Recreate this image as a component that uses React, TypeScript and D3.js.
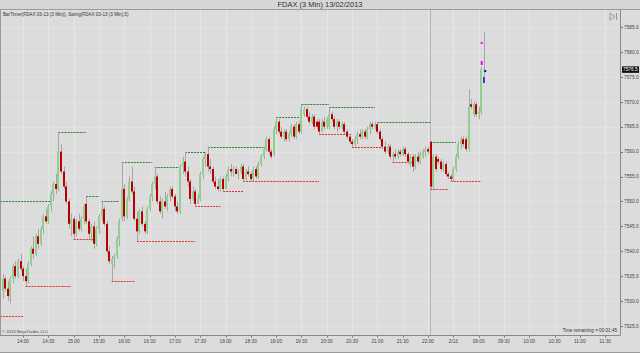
import React from 'react';
import * as d3 from 'd3';

const open = [7532,7534.5,7532.5,7531,7534.5,7537,7535,7538,7536.5,7535,7534,7537.5,7540.5,7539.5,7543,7541.5,7544.5,7547,7546,7549,7551.5,7553.5,7552.5,7560,7556,7553,7550,7545.5,7546.5,7543.5,7546,7544.5,7546.5,7549.5,7546,7543.5,7545,7541.5,7544.5,7547,7548.5,7545.5,7540,7537.5,7538.5,7539,7542.5,7546.5,7552.5,7547,7550.5,7554,7552,7546.5,7544,7548,7545.5,7544,7548.5,7551,7553.5,7555,7550,7548,7550,7549,7551,7552.5,7551,7549,7548,7557,7558,7556,7554,7550.5,7552,7549.5,7550.5,7555.5,7558.5,7559.5,7557,7556.5,7554,7553,7552.5,7554.5,7552.5,7555,7556.5,7556,7556.5,7555.5,7556,7557,7554.5,7556,7555.5,7554.5,7556.5,7555,7557.5,7559,7560.5,7562.5,7560,7559.5,7564.5,7566,7564,7563,7564,7562.5,7563.5,7565,7563,7565.5,7564,7567.5,7568.5,7567,7566,7567,7566,7566,7564,7566,7565,7565,7567.5,7566.5,7565,7566,7565,7565.5,7564,7563,7562,7561.5,7562.5,7563.5,7563,7564,7563,7564.5,7565.5,7565,7565.5,7564,7562.5,7561,7560,7561,7559,7559.5,7559,7560,7559.5,7560.5,7559.5,7557.5,7559,7557,7559,7558,7559,7560,7560.5,7562,7553,7559,7558.5,7558,7556.5,7557.5,7555.5,7555,7554.5,7556.5,7559,7561.5,7562.5,7562.5,7560.5,7569.5,7567.5,7569.5,7567.5,7568,7576.5];
const high = [7535.5,7535,7534,7535,7537.5,7538,7538.5,7539.5,7537,7536.5,7538,7541,7543,7543.5,7544.5,7545,7547.5,7548.5,7549.5,7552,7554,7555.5,7564,7561.5,7557,7554,7550.5,7547.5,7547,7546.5,7547.5,7547,7549.5,7551,7546.5,7545.5,7546,7545,7547.5,7550,7549,7546,7541,7539,7539.5,7543,7546.5,7558,7553.5,7551,7555,7557,7553,7548,7548.5,7549,7546,7549,7551.5,7554,7557,7555.5,7551,7550.5,7552,7551.5,7553,7553,7551.5,7550,7557.5,7559,7560,7557,7554.5,7553,7552.5,7551.5,7556,7559,7560,7561,7558.5,7557,7555,7554.5,7555,7555,7555.5,7557,7557.5,7557,7557,7556.5,7557.5,7557.5,7556.5,7557,7556,7557,7557,7558,7559.5,7561,7563,7563,7560.5,7565,7567,7566.5,7565,7564.5,7564.5,7564,7565.5,7565.5,7566,7566,7569.5,7569,7569,7568,7567.5,7567.5,7566.5,7566.5,7566.5,7567,7567,7569,7568,7567,7566.5,7566.5,7566,7566,7564.5,7563.5,7562.5,7563,7564,7564.5,7564.5,7564.5,7565,7566,7566,7566,7566,7564.5,7563,7562,7561.5,7561.5,7560,7560.5,7560.5,7560.5,7561,7561,7560,7559.5,7559.5,7559.5,7560,7560,7560.5,7561,7561,7562,7559.5,7559.5,7559,7558.5,7558,7558,7556,7555.5,7557,7559.5,7562,7563,7563,7563,7572.5,7570.5,7570,7570,7569,7577,7584];
const low = [7530.5,7532,7530,7529.5,7533.5,7534.5,7534.5,7536,7534,7533,7533.5,7537,7538.5,7539,7540.5,7541,7543.5,7545.5,7545.5,7548,7550,7551.5,7552,7555.5,7552.5,7549.5,7544.5,7543,7542.5,7543,7544,7544,7545.5,7545.5,7542.5,7542,7540.5,7541,7543.5,7546,7545,7539.5,7537.5,7534,7536.5,7538.5,7541,7546,7546,7546.5,7550,7551.5,7546,7542,7543.5,7545,7543.5,7543.5,7548,7550,7552.5,7549.5,7547.5,7546.5,7548.5,7548,7550,7550.5,7548,7547.5,7547.5,7555.5,7555,7553,7549.5,7550,7549,7549.5,7550,7554.5,7557,7556,7555.5,7553.5,7552.5,7552,7552,7552,7552.5,7554,7555,7555,7555.5,7554.5,7555.5,7554,7554,7555,7554,7554,7554.5,7554.5,7557,7558.5,7560,7559.5,7558.5,7559,7563.5,7563.5,7562.5,7562,7562,7562,7563,7562.5,7562.5,7563.5,7563.5,7567,7566.5,7565.5,7565.5,7564.5,7564.5,7563.5,7564,7564.5,7564.5,7564.5,7566,7564.5,7564,7564.5,7564.5,7563.5,7562.5,7561.5,7561,7561,7561.5,7562.5,7562.5,7562.5,7562.5,7563.5,7564.5,7564.5,7563.5,7562,7560.5,7559.5,7559.5,7558.5,7558,7558.5,7558.5,7559,7559,7559,7557.5,7557,7556,7556.5,7557.5,7557.5,7558.5,7559,7559.5,7552.5,7552.5,7556,7557.5,7556,7556,7555,7554.5,7554,7554,7556,7558.5,7560.5,7561,7560,7560,7568.5,7567,7567,7566.5,7567.5,7575];
const close = [7534.5,7532.5,7531,7534.5,7537,7535,7538,7536.5,7535,7534,7537.5,7540.5,7539.5,7543,7541.5,7544.5,7547,7546,7549,7551.5,7553.5,7552.5,7560,7556,7553,7550,7545.5,7546.5,7543.5,7546,7544.5,7546.5,7549,7546,7543.5,7545,7541.5,7544.5,7547,7548.5,7545.5,7540,7538,7538.5,7539,7542.5,7546,7552.5,7547,7550.5,7554,7552,7546.5,7544,7548,7545.5,7544,7548.5,7551,7553.5,7555,7550,7548,7550,7549,7551,7552.5,7551,7549,7548,7557,7558,7556,7554,7550.5,7552,7549.5,7550.5,7555.5,7558.5,7559.5,7557,7556.5,7554,7553,7552.5,7554.5,7552.5,7555,7556.5,7556,7556.5,7555.5,7556,7557,7554.5,7556,7555.5,7554.5,7556.5,7555,7557.5,7559,7560.5,7562.5,7560,7559,7564.5,7566,7564,7563,7564,7562.5,7563.5,7565,7563,7565.5,7564,7568.5,7568.5,7567,7566,7567,7565,7565,7564,7566,7565,7566.5,7567.5,7566.5,7565,7566,7565,7565.5,7564,7563,7562,7561.5,7562.5,7563.5,7563,7564,7563,7564.5,7565.5,7565,7565.5,7564,7562.5,7561,7560,7561,7559,7559.5,7559,7560,7559.5,7560.5,7559.5,7558,7559,7557,7559,7558,7559.5,7560,7560.5,7560,7553,7559,7556.5,7558,7556.5,7557.5,7555.5,7555,7554.5,7556.5,7559,7561.5,7562.5,7561.5,7560.5,7569,7569,7569.5,7567.5,7568,7576.5,7576.5];

const swingHighStart = [-1, 22, 33, 39, 47, 60, 72, 81, 108, 118, 129, 148, 169];
const swingHighEnd = [19, 33, 38, 46, 59, 70, 80, 103, 117, 129, 147, 169, 179];
const swingHighPrice = [7550, 7564, 7551, 7550, 7558, 7557, 7560, 7561, 7567, 7569.5, 7569, 7566, 7562];
const swingLowStart = [-1, 9, 28, 43, 53, 76, 87, 95, 125, 138, 154, 169, 177];
const swingLowEnd = [8, 27, 36, 52, 76, 86, 95, 125, 138, 150, 162, 176, 189];
const swingLowPrice = [7527, 7533, 7542.5, 7534, 7542, 7549, 7552, 7554, 7563.5, 7561, 7558, 7552.5, 7554];

const xTickLabels = ["14:00","14:30","15:00","15:30","16:00","16:30","17:00","17:30","18:00","18:30","19:00","19:30","20:00","20:30","21:00","21:30","22:00","2/13","09:00","09:30","10:00","10:30","11:00","11:30"];
const xTickIndex = [8,18,28,38,48,58,68,78,88,98,108,118,128,138,148,158,168,178,188,198,208,218,228,238];
const yTicks = [7525,7530,7535,7540,7545,7550,7555,7560,7565,7570,7575,7580,7585];
const lastPrice = 7576.5;

const FONT = "'Liberation Sans', Arial, sans-serif";

export default function App() {
  const x = d3.scaleLinear().domain([0, 238]).range([2.8, 605.2]);
  const y = d3.scaleLinear().domain([7525, 7585]).range([326, 27]);
  const plotL = 1, plotR = 620, plotT = 9.5, plotB = 335.5;
  const n = close.length;
  const idx = d3.range(n);
  const sessionBreak = x(168.8);
  const last = n - 1;

  return (
    <svg width={640} height={353} style={{ position: 'absolute', left: 0, top: 0 }} fontFamily={FONT}>
      <defs>
        <clipPath id="plot"><rect x={plotL} y={plotT} width={plotR - plotL} height={plotB - plotT} /></clipPath>
      </defs>
      <rect x={0} y={0} width={640} height={353} fill="#dcdcdc" />
      <rect x={0} y={0} width={640} height={9} fill="#d6d6d6" />
      <text x={320} y={7} textAnchor="middle" fontSize={7.5} fill="#333">FDAX  (3 Min)  13/02/2013</text>
      <line x1={0} x2={640} y1={plotT} y2={plotT} stroke="#9a9a9a" />
      <g clipPath="url(#plot)">
        {xTickIndex.map((t, k) => (
          <line key={'vg' + k} x1={Math.round(x(t)) + 0.5} x2={Math.round(x(t)) + 0.5} y1={plotT} y2={plotB} stroke="#e6e6e6" strokeWidth={1} />
        ))}
        {yTicks.map((v, k) => (
          <line key={'hg' + k} x1={plotL} x2={plotR} y1={Math.round(y(v)) + 0.5} y2={Math.round(y(v)) + 0.5} stroke="#e3e3e3" strokeWidth={1} />
        ))}
        <line x1={Math.round(sessionBreak) + 0.5} x2={Math.round(sessionBreak) + 0.5} y1={plotT} y2={plotB} stroke="#b8b8b8" />
        {swingHighPrice.map((p, k) => (
          <line key={'sh' + k} x1={x(swingHighStart[k])} x2={x(swingHighEnd[k])} y1={Math.round(y(p)) + 0.5} y2={Math.round(y(p)) + 0.5} stroke="#2e7d2e" strokeWidth={1} strokeDasharray="2,1" />
        ))}
        {swingLowPrice.map((p, k) => (
          <line key={'sl' + k} x1={x(swingLowStart[k])} x2={x(swingLowEnd[k])} y1={Math.round(y(p)) + 0.5} y2={Math.round(y(p)) + 0.5} stroke="#e03030" strokeWidth={1} strokeDasharray="2,1" />
        ))}
        {idx.map((i) => {
          const cx = Math.round(x(i));
          const up = close[i] >= open[i];
          const top = y(Math.max(open[i], close[i]));
          const bot = y(Math.min(open[i], close[i]));
          return (
            <g key={'c' + i}>
              <line x1={cx + 0.5} x2={cx + 0.5} y1={y(high[i])} y2={y(low[i])} stroke="#a6a6a6" strokeWidth={1} />
              <rect x={cx - 1} y={top} width={2} height={Math.max(1, bot - top)} fill={up ? '#8fd08f' : '#b80000'} />
            </g>
          );
        })}
        <rect x={x(last) - 3} y={42} width={2} height={2} fill="#ff00ff" />
        <rect x={x(last) - 3} y={61} width={2} height={4} fill="#ff00ff" />
        <rect x={x(last) + 0.5} y={70} width={2} height={2} fill="#0000ee" />
        <rect x={x(last) - 0.5} y={77} width={1.5} height={6} fill="#0000ee" />
      </g>
      <line x1={plotR + 0.5} x2={plotR + 0.5} y1={plotT} y2={plotB} stroke="#8a8a8a" />
      <line x1={plotL - 0.5} x2={plotL - 0.5} y1={plotT} y2={plotB} stroke="#9a9a9a" />
      <line x1={0} x2={plotR} y1={plotB} y2={plotB} stroke="#8a8a8a" />
      <line x1={0} x2={640} y1={352.5} y2={352.5} stroke="#9a9a9a" />
      <text x={3} y={16} fontSize={4.6} fill="#333">BarTimer(FDAX 03-13 (3 Min)), Swing(FDAX 03-13 (3 Min),5)</text>
      <g transform="translate(610,13)" fill="none" stroke="#888" strokeWidth={0.8}>
        <path d="M0,0 L5,3.5 L0,7 Z" />
        <line x1={6.5} x2={6.5} y1={0} y2={7} />
      </g>
      {yTicks.map((v, k) => (
        <g key={'yt' + k}>
          <line x1={plotR} x2={plotR + 3} y1={Math.round(y(v)) + 0.5} y2={Math.round(y(v)) + 0.5} stroke="#777" />
          <text x={plotR + 4} y={y(v) + 1.8} fontSize={4.8} fill="#444">{v.toFixed(1)}</text>
        </g>
      ))}
      <rect x={plotR + 2} y={y(lastPrice) - 3} width={17} height={6.5} fill="#111" />
      <text x={plotR + 3} y={y(lastPrice) + 1.9} fontSize={4.8} fill="#fff">{lastPrice.toFixed(1)}</text>
      {xTickIndex.map((t, k) => (
        <g key={'xt' + k}>
          <line x1={Math.round(x(t)) + 0.5} x2={Math.round(x(t)) + 0.5} y1={plotB} y2={plotB + 2} stroke="#777" />
          <text x={x(t)} y={342.5} textAnchor="middle" fontSize={4.8} fill="#444">{xTickLabels[k]}</text>
        </g>
      ))}
      <text x={2} y={333} fontSize={4.2} fill="#444">© 2013 NinjaTrader, LLC</text>
      <text x={617} y={332} textAnchor="end" fontSize={4.6} fill="#333">Time remaining = 00:01:45</text>
    </svg>
  );
}
